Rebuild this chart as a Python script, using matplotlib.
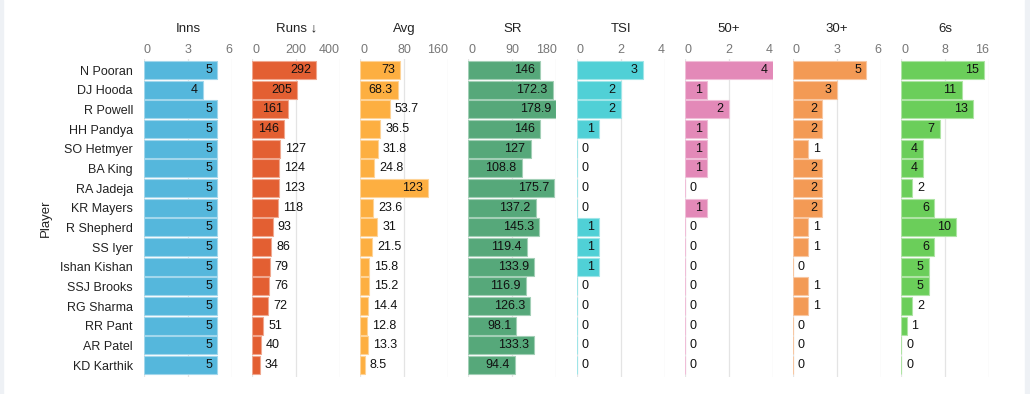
import matplotlib
matplotlib.use("Agg")
import matplotlib.pyplot as plt
from matplotlib.patches import Rectangle
import matplotlib.colors as mcolors

plt.rcParams['font.family'] = ['Liberation Sans', 'DejaVu Sans']

players = ["N Pooran", "DJ Hooda", "R Powell", "HH Pandya", "SO Hetmyer", "BA King",
           "RA Jadeja", "KR Mayers", "R Shepherd", "SS Iyer", "Ishan Kishan",
           "SSJ Brooks", "RG Sharma", "RR Pant", "AR Patel", "KD Karthik"]

inns = [5, 4, 5, 5, 5, 5, 5, 5, 5, 5, 5, 5, 5, 5, 5, 5]
runs = [292, 205, 161, 146, 127, 124, 123, 118, 93, 86, 79, 76, 72, 51, 40, 34]
avg = [73, 68.3, 53.7, 36.5, 31.8, 24.8, 123, 23.6, 31, 21.5, 15.8, 15.2, 14.4, 12.8, 13.3, 8.5]
sr = [146, 172.3, 178.9, 146, 127, 108.8, 175.7, 137.2, 145.3, 119.4, 133.9, 116.9,
      126.3, 98.1, 133.3, 94.4]
tsi = [3, 2, 2, 1, 0, 0, 0, 0, 1, 1, 1, 0, 0, 0, 0, 0]
fifties = [4, 1, 2, 1, 1, 1, 0, 1, 0, 0, 0, 0, 0, 0, 0, 0]
thirties = [5, 3, 2, 2, 1, 2, 2, 2, 1, 1, 0, 1, 1, 0, 0, 0]
sixes = [15, 11, 13, 7, 4, 4, 2, 6, 10, 6, 5, 5, 2, 1, 0, 0]

titles = ["Inns", "Runs \u2193", "Avg", "SR", "TSI", "50+", "30+", "6s"]
ticks = [[0, 3, 6], [0, 200, 400], [0, 80, 160], [0, 90, 180],
         [0, 2, 4], [0, 2, 4], [0, 3, 6], [0, 8, 16]]
colors = ["#55b7dc", "#e35f32", "#fdaf41", "#56a87a",
          "#50d0d6", "#e389b8", "#f39a55", "#6bce5a"]
series = [inns, runs, avg, sr, tsi, fifties, thirties, sixes]

W, H = 1030, 394
fig = plt.figure(figsize=(W / 100, H / 100), dpi=100)
fig.patches.append(Rectangle((0, 0), 3 / W, 1, transform=fig.transFigure,
                             color="#eef1f5", zorder=0))
fig.patches.append(Rectangle((1025 / W, 0), 5 / W, 1, transform=fig.transFigure,
                             color="#eef1f5", zorder=0))


def fmt(v):
    return str(int(v)) if float(v).is_integer() else str(v)


def text_px(s):
    return sum(3.5 if c == '.' else 7.0 for c in s)


top, bottom = 59, 377
n = len(players)
for i, (vals, title, tk, col) in enumerate(zip(series, titles, ticks, colors)):
    x0 = 144 + i * 108.15
    ax = fig.add_axes([x0 / W, 1 - bottom / H, 88 / W, (bottom - top) / H])
    edge = mcolors.to_rgb(col)
    edge = tuple(0.55 * c + 0.45 for c in edge)
    ax.barh(range(n), vals, height=0.92, color=col, edgecolor=edge, linewidth=0.8, zorder=2)
    ax.set_xlim(0, tk[-1])
    ax.set_ylim(15.61, -0.56)
    for t in tk:
        ax.axvline(t, color="#e4e4e4", linewidth=0.9, zorder=1)
    for s in ax.spines.values():
        s.set_visible(False)
    ax.xaxis.tick_top()
    ax.set_xticks(tk)
    ax.set_xticklabels([str(t) for t in tk], color="#777777", fontsize=9)
    lbls = ax.get_xticklabels()
    lbls[0].set_ha("left")
    lbls[-1].set_ha("right")
    ax.tick_params(axis="x", length=0, pad=2)
    ax.set_title(title, fontsize=9.5, color="#222222", pad=9)

    px_per_unit = 88 / tk[-1]
    for j, v in enumerate(vals):
        s = fmt(v)
        w = v * px_per_unit
        if w > text_px(s) + 10:
            ax.annotate(s, (v, j), xytext=(-5, 0), textcoords="offset pixels",
                        ha="right", va="center", fontsize=9, color="#111111", zorder=3)
        else:
            ax.annotate(s, (v, j), xytext=(5, 0), textcoords="offset pixels",
                        ha="left", va="center", fontsize=9, color="#111111", zorder=3)

    if i == 0:
        ax.set_yticks(range(n))
        ax.set_yticklabels(players, fontsize=9, color="#222222")
        ax.tick_params(axis="y", length=0, pad=8)
        ax.set_ylabel("Player", fontsize=9.5, color="#222222", labelpad=6)
    else:
        ax.set_yticks([])

fig.savefig("out.png", dpi=100, facecolor="white")
